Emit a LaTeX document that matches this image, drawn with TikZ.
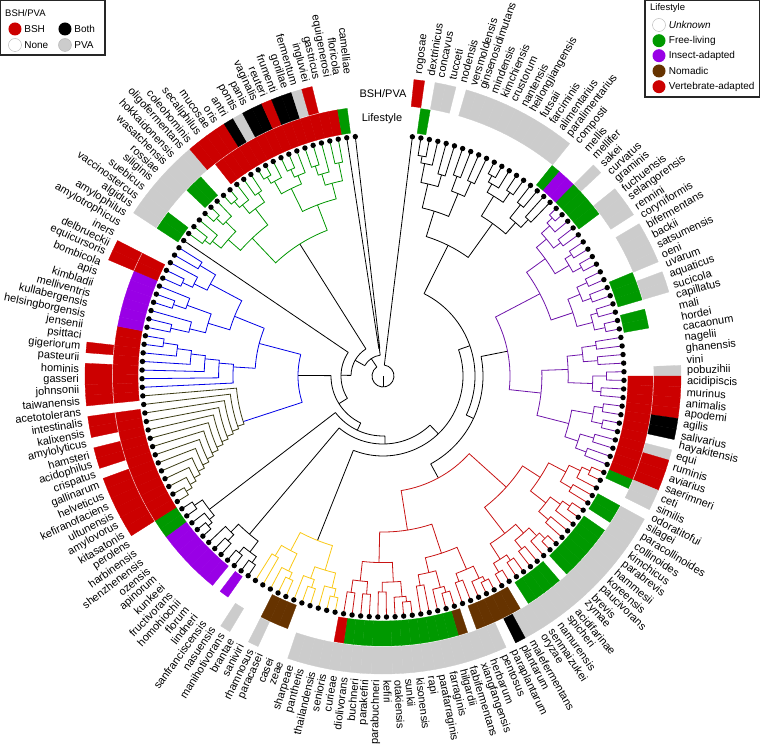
\documentclass[tikz,border=0pt]{standalone}
\usepackage{fontspec}
\setmainfont{Liberation Sans}
\usetikzlibrary{positioning}
% ring colours (lifestyle / BSH-PVA)
\definecolor{lsg}{RGB}{0,153,0}
\definecolor{lsp}{RGB}{153,0,230}
\definecolor{lsb}{RGB}{102,51,0}
\definecolor{lsr}{RGB}{204,0,0}
\definecolor{bpr}{RGB}{204,0,0}
\definecolor{bpk}{RGB}{0,0,0}
\definecolor{bpy}{RGB}{204,204,204}
% branch colours
\definecolor{brgreen}{RGB}{0,150,0}
\definecolor{brblue}{RGB}{0,0,230}
\definecolor{brolive}{RGB}{60,60,20}
\definecolor{brpurple}{RGB}{110,20,170}
\definecolor{brred}{RGB}{200,20,20}
\definecolor{bryellow}{RGB}{250,200,20}
\tikzset{
  branch/.style={line width=0.8pt},
  leaflbl/.style={font=\fontsize{11}{12}\selectfont,inner sep=0pt},
  ringlbl/.style={font=\fontsize{11}{12}\selectfont,inner sep=0pt},
  legbox/.style={draw=black!85,line width=1.3pt,fill=white},
  legtitle/.style={font=\fontsize{9.5}{11}\selectfont,inner sep=0pt,anchor=west},
  legtxt/.style={font=\fontsize{10}{12}\selectfont,inner sep=0pt},
  legdot/.style={circle,minimum size=13pt,inner sep=0pt}
}
% subtree of leaves #1..#2 with its node at radius #3
\newcommand\sub[3]{%
  \begingroup
  \edef\sa{#1}\edef\sb{#2}\edef\sr{#3}%
  \ifnum\sa<\sb\relax
    \pgfmathtruncatemacro\sm{floor((\sa+\sb)/2)}%
    \pgfmathtruncatemacro\sn{\sm+1}%
    \pgfmathsetmacro\aL{90-(7+((\sa+\sm)/2-1)*2.0497)}%
    \pgfmathsetmacro\aR{90-(7+((\sn+\sb)/2-1)*2.0497)}%
    \pgfmathsetmacro\fr{0.28+0.04*mod(\sa+2*\sb,5)}%
    \ifnum\sa=\sm\relax\def\rL{241}\else\pgfmathsetmacro\rL{\sr+(241-\sr)*\fr}\fi
    \ifnum\sn=\sb\relax\def\rR{241}\else\pgfmathsetmacro\rR{\sr+(241-\sr)*(0.72-\fr)}\fi
    \draw[branch] (\aL:\rL pt) -- (\aL:\sr pt) arc[start angle=\aL,end angle=\aR,radius=\sr pt] -- (\aR:\rR pt);
    \sub{\sa}{\sm}{\rL}%
    \sub{\sn}{\sb}{\rR}%
  \fi
  \endgroup}
\newcommand\clade[4]{\begin{scope}[#4]\sub{#1}{#2}{#3}\end{scope}}
% ladder: leaves #1..#2 peeled one by one from the #2 end, radii #3 -> #4
\newcommand\ladderB[4]{%
  \pgfmathtruncatemacro\lm{#2-#1-1}%
  \foreach \k in {0,...,\lm}{%
    \pgfmathsetmacro\rk{#3+(#4-#3)*\k/max(\lm,1)}%
    \pgfmathsetmacro\rkn{#3+(#4-#3)*(\k+1)/max(\lm,1)}%
    \pgfmathtruncatemacro\lf{#2-\k}%
    \pgfmathtruncatemacro\re{#2-\k-1}%
    \pgfmathsetmacro\al{90-(7+(\lf-1)*2.0497)}%
    \pgfmathsetmacro\ar{90-(7+((#1+\re)/2-1)*2.0497)}%
    \ifnum\re=#1\relax\def\rr{241}\else\let\rr\rkn\fi
    \draw[branch] (\ar:\rr pt) -- (\ar:\rk pt) arc[start angle=\ar,end angle=\al,radius=\rk pt] -- (\al:241pt);
  }}
% ladder peeled from the #1 end
\newcommand\ladderA[4]{%
  \pgfmathtruncatemacro\lm{#2-#1-1}%
  \foreach \k in {0,...,\lm}{%
    \pgfmathsetmacro\rk{#3+(#4-#3)*\k/max(\lm,1)}%
    \pgfmathsetmacro\rkn{#3+(#4-#3)*(\k+1)/max(\lm,1)}%
    \pgfmathtruncatemacro\lf{#1+\k}%
    \pgfmathtruncatemacro\re{#1+\k+1}%
    \pgfmathsetmacro\al{90-(7+(\lf-1)*2.0497)}%
    \pgfmathsetmacro\ar{90-(7+((\re+#2)/2-1)*2.0497)}%
    \ifnum\re=#2\relax\def\rr{241}\else\let\rr\rkn\fi
    \draw[branch] (\al:241pt) -- (\al:\rk pt) arc[start angle=\al,end angle=\ar,radius=\rk pt] -- (\ar:\rr pt);
  }}
% backbone pieces, angles clockwise from the top
\newcommand\bbarc[3]{\draw[branch] ({90-(#1)}:#3pt) arc[start angle={90-(#1)},end angle={90-(#2)},radius=#3pt];}
\newcommand\bbline[3]{\draw[branch] ({90-(#1)}:#2pt) -- ({90-(#1)}:#3pt);}

\begin{document}
\begin{tikzpicture}[x=1pt,y=1pt]
\useasboundingbox (-383,-371) rectangle (377,376);

% rings, dots and leaf names
\foreach \nm/\ls/\bp [count=\i] in {rogosae/n/r, dextrinicus/g/n, concavus/n/y, tucceti/n/y, nodensis/n/n,
  versmoldensis/n/y, ginsenosidimutans/n/y, mindensis/n/y, kimchiensis/n/y, crustorum/n/y, nantensis/n/y,
  heilongjiangensis/n/y, futsaii/n/y, farciminis/n/y, alimentarius/n/y, paralimentarius/n/y, composti/g/n,
  mellis/p/n, mellifer/p/n, sakei/g/y, curvatus/g/n, graminis/g/n, fuchuensis/g/y, selangorensis/n/y,
  rennini/n/y, coryniformis/n/n, bifermentans/n/y, backii/n/y, satsumensis/n/y, oeni/n/y, uvarum/g/n,
  aquaticus/g/y, sucicola/g/y, capillatus/n/n, mali/g/n, hordei/g/n, cacaonum/n/n, nagelii/n/n,
  ghanensis/n/n, vini/n/n, pobuzihii/n/y, acidipiscis/r/r, murinus/r/r, animalis/r/r, apodemi/r/r,
  agilis/r/k, salivarius/r/k, hayakitensis/r/n, equi/r/y, ruminis/r/r, aviarius/r/r, saerimneri/r/r,
  ceti/g/y, similis/n/y, odoratitofui/n/n, silagei/g/y, paracollinoides/g/y, collinoides/n/y,
  kimchicus/g/y, parabrevis/g/y, hammesii/g/y, koreensis/g/y, paucivorans/g/y, brevis/g/y, zymae/n/y,
  acidifarinae/g/y, spicheri/g/y, namurensis/g/y, senmaizukei/g/y, oryzae/n/y, malefermentans/b/y,
  plantarum/b/k, paraplantarum/b/n, pentosus/b/y, herbarum/b/y, xiangfangensis/n/y, fabifermentans/b/y,
  hilgardii/g/y, farraginis/g/y, parafarraginis/g/y, rapi/g/y, kisonensis/g/y, sunkii/g/y, otakiensis/g/y,
  kefiri/g/y, parabuchneri/g/y, parakefiri/g/y, buchneri/g/y, diolivorans/g/y, curieae/r/y, senioris/n/y,
  thailandensis/n/y, pantheris/n/y, sharpeae/n/y, zeae/n/n, casei/b/n, paracasei/b/n, rhamnosus/b/y,
  saniviri/n/n, brantae/n/n, manihotivorans/n/y, nasuensis/n/n, sanfranciscensis/p/n, lindneri/n/n,
  florum/p/n, homohiochii/p/n, fructivorans/p/n, kunkeei/p/n, apinorum/p/n, ozensis/p/n, shenzhenensis/p/n,
  harbinensis/g/n, perolens/g/n, kitasatonis/r/r, amylovorus/r/r, ultunensis/r/r, kefiranofaciens/r/r,
  helveticus/r/r, gallinarum/r/r, crispatus/r/n, acidophilus/r/r, hamsteri/r/r, amylolyticus/r/n,
  kalixensis/r/r, intestinalis/r/r, acetotolerans/n/n, taiwanensis/r/r, johnsonii/r/r, gasseri/r/r,
  hominis/r/r, pasteurii/r/n, gigeriorum/r/r, psittaci/r/n, jensenii/r/n, helsingborgensis/p/n,
  kullabergensis/p/n, melliventris/p/n, kimbladii/p/n, apis/p/n, bombicola/p/n, equicursoris/r/r,
  delbrueckii/r/r, iners/n/n, amylotrophicus/n/n, amylophilus/n/n, algidus/g/y, vaccinostercus/g/y,
  suebicus/n/y, siliginis/n/y, rossiae/n/y, wasatchensis/g/y, hokkaidonensis/g/y, oligofermentans/n/y,
  coleohominis/n/r, secaliphilus/r/r, mucosae/r/r, oris/r/r, antri/r/k, pontis/r/y, panis/r/k,
  vaginalis/r/k, reuteri/r/r, frumenti/r/k, gorillae/r/k, fermentum/r/y, ingluviei/r/r, gastricus/r/n,
  equigenerosi/r/n, floricola/g/n, camelliae/n/n}{
  \pgfmathsetmacro\fa{90-(7+(\i-1)*2.0497)}
  \pgfmathsetmacro\fb{\fa+1.03}
  \pgfmathsetmacro\fc{\fa-1.03}
  \edef\lc{ls\ls}\edef\bc{bp\bp}
  \if\ls n\else
    \fill[\lc,draw=\lc,line width=0.3pt] (\fb:245pt) arc[start angle=\fb,end angle=\fc,radius=245pt]
      -- (\fc:270pt) arc[start angle=\fc,end angle=\fb,radius=270pt] -- cycle;
  \fi
  \if\bp n\else
    \fill[\bc,draw=\bc,line width=0.3pt] (\fb:271pt) arc[start angle=\fb,end angle=\fc,radius=271pt]
      -- (\fc:298pt) arc[start angle=\fc,end angle=\fb,radius=298pt] -- cycle;
  \fi
  \ifnum\i<86
    \node[leaflbl,anchor=west,rotate=\fa] (lf\i) at (\fa:304pt) {\nm};
  \else
    \pgfmathsetmacro\fr{\fa+180}
    \node[leaflbl,anchor=east,rotate=\fr] (lf\i) at (\fa:304pt) {\nm};
  \fi
}

% backbone
\bbline{180}{0}{11}
\bbarc{7}{325.89}{11}
\bbline{7}{11}{241}
\bbline{325.89}{11}{21}  \bbarc{299.41}{352.37}{21}
\bbline{352.37}{21}{28}  \clade{169}{170}{28}{black}
\bbline{299.41}{21}{32}  \bbarc{271.04}{327.78}{32}
\bbline{327.78}{32}{156} \clade{147}{168}{156}{brgreen}
\bbline{271.04}{32}{42}  \bbarc{237.87}{304.21}{42}
\bbline{304.21}{42}{241}
\bbline{237.87}{42}{52}  \bbarc{205.34}{270.39}{52}
\bbline{270.39}{52}{85}
\begin{scope}[brblue]
  \bbarc{251.94}{284.73}{85}
  \bbline{251.94}{85}{147}
  \bbline{284.73}{85}{128}
  \bbarc{273.46}{291.9}{128}
  \bbline{273.46}{128}{150}
  \bbline{291.9}{128}{160}
  \ladderA{128}{134}{150}{222}
  \sub{135}{145}{160}
\end{scope}
\begin{scope}[brolive]
  \ladderB{114}{127}{147}{228}
\end{scope}
\bbline{205.34}{52}{60}  \bbarc{178.22}{232.47}{60}
\bbline{232.47}{60}{219} \clade{109}{113}{219}{black}
\bbline{178.22}{60}{68}  \bbarc{136.26}{220.17}{68}
\bbline{220.17}{68}{207} \clade{102}{108}{207}{black}
\bbline{136.26}{68}{80}  \bbarc{70.80}{201.72}{80}
\bbline{201.72}{80}{177} \clade{91}{101}{177}{bryellow}
\bbline{70.80}{80}{92}   \bbarc{26.47}{115.12}{92}
\bbline{26.47}{92}{146}  \clade{2}{19}{146}{black}
\bbline{115.12}{92}{100} \bbarc{78.74}{151.50}{100}
\bbline{78.74}{100}{127} \clade{20}{52}{127}{brpurple}
\bbline{151.50}{100}{116} \clade{53}{90}{116}{brred}

% leaf dots
\foreach \i in {1,...,170}{
  \pgfmathsetmacro\fa{90-(7+(\i-1)*2.0497)}
  \fill (\fa:241pt) circle[radius=2.7pt];
}

\node[ringlbl] (ttlbsh) at (0,282) {BSH/PVA};
\node[ringlbl] (ttllife) at (-1,257) {Lifestyle};

% legend BSH/PVA
\draw[legbox] (-382.3,375.3) rectangle (-278,321);
\node[legtitle] (bshtitle) at (-378,363) {BSH/PVA};
\node[legdot,fill=bpr] (bshdot) at (-368,347) {};
\node[legtxt,right=2.5pt of bshdot] (bshtxt) {BSH};
\node[legdot,fill=bpk] (bothdot) at (-318,347) {};
\node[legtxt,right=2.5pt of bothdot] (bothtxt) {Both};
\node[legdot,fill=white,draw=black!30] (nonedot) at (-368,331) {};
\node[legtxt,right=2.5pt of nonedot] (nonetxt) {None};
\node[legdot,fill=bpy,draw=black!30] (pvadot) at (-318,331) {};
\node[legtxt,right=2.5pt of pvadot] (pvatxt) {PVA};

% legend lifestyle
\draw[legbox] (262,375.3) rectangle (376.3,279);
\node[legtitle] (lifetitle) at (267,367.5) {Lifestyle};
\node[legdot,fill=white,draw=black!30] (unkdot) at (276,351) {};
\node[legtxt,right=3pt of unkdot] (unktxt) {\itshape Unknown};
\node[legdot,fill=lsg] (freedot) at (276,335.3) {};
\node[legtxt,right=3pt of freedot] (freetxt) {Free-living};
\node[legdot,fill=lsp] (insdot) at (276,320.3) {};
\node[legtxt,right=3pt of insdot] (instxt) {Insect-adapted};
\node[legdot,fill=lsb] (nomdot) at (276,305) {};
\node[legtxt,right=3pt of nomdot] (nomtxt) {Nomadic};
\node[legdot,fill=lsr] (vertdot) at (276,289.3) {};
\node[legtxt,right=3pt of vertdot] (verttxt) {Vertebrate-adapted};
\end{tikzpicture}
\end{document}
